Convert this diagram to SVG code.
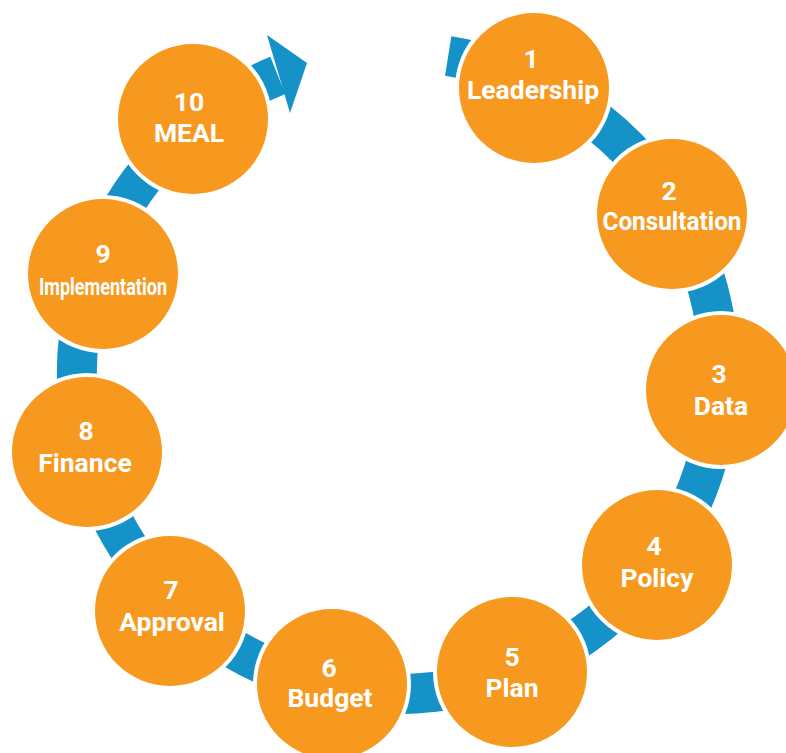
<svg xmlns="http://www.w3.org/2000/svg" width="786" height="753" viewBox="0 0 786 753">
<style>
.ring{fill:none;stroke:#1592C8;stroke-width:40}
.arrow{fill:#1592C8}
.halo{fill:#FFFFFF}
.disc{fill:#F7991F}
.t{font-family:Roboto,"Liberation Sans",sans-serif;font-weight:bold;font-size:26.5px;fill:#FFFFFF;text-anchor:middle}
</style>
<rect width="786" height="753" fill="#FFFFFF"/>
<g id="connectors">
<path class="ring" d="M 448.2 56 A 321 321 0 1 1 277.8 75.4"/>
<polygon class="arrow" points="267,35 307,63 290,113"/>
</g>
<g id="node1"><circle class="halo" cx="534" cy="88" r="79"/><circle class="disc" cx="534" cy="88" r="75"/><text class="t" x="531" y="68">1</text><text class="t" x="533" y="99">Leadership</text></g>
<g id="node2"><circle class="halo" cx="672" cy="214" r="79"/><circle class="disc" cx="672" cy="214" r="75"/><text class="t" x="669" y="200">2</text><text class="t" x="672" y="230" textLength="139" lengthAdjust="spacingAndGlyphs">Consultation</text></g>
<g id="node3"><circle class="halo" cx="721" cy="390" r="79"/><circle class="disc" cx="721" cy="390" r="75"/><text class="t" x="719" y="383">3</text><text class="t" x="721" y="415">Data</text></g>
<g id="node4"><circle class="halo" cx="657" cy="565" r="79"/><circle class="disc" cx="657" cy="565" r="75"/><text class="t" x="654" y="555">4</text><text class="t" x="657" y="587">Policy</text></g>
<g id="node5"><circle class="halo" cx="512" cy="672" r="79"/><circle class="disc" cx="512" cy="672" r="75"/><text class="t" x="512" y="666">5</text><text class="t" x="512" y="697">Plan</text></g>
<g id="node6"><circle class="halo" cx="332" cy="684" r="79"/><circle class="disc" cx="332" cy="684" r="75"/><text class="t" x="329" y="677">6</text><text class="t" x="330" y="707">Budget</text></g>
<g id="node7"><circle class="halo" cx="170" cy="611" r="79"/><circle class="disc" cx="170" cy="611" r="75"/><text class="t" x="171" y="599">7</text><text class="t" x="172" y="631">Approval</text></g>
<g id="node8"><circle class="halo" cx="87" cy="452" r="79"/><circle class="disc" cx="87" cy="452" r="75"/><text class="t" x="86" y="440">8</text><text class="t" x="85" y="472">Finance</text></g>
<g id="node9"><circle class="halo" cx="103" cy="274" r="79"/><circle class="disc" cx="103" cy="274" r="75"/><text class="t" x="103" y="263">9</text><text class="t" x="103" y="295" textLength="128" lengthAdjust="spacingAndGlyphs" style="font-size:24px">Implementation</text></g>
<g id="node10"><circle class="halo" cx="193" cy="119" r="79"/><circle class="disc" cx="193" cy="119" r="75"/><text class="t" x="189" y="111">10</text><text class="t" x="189" y="142">MEAL</text></g>
</svg>
